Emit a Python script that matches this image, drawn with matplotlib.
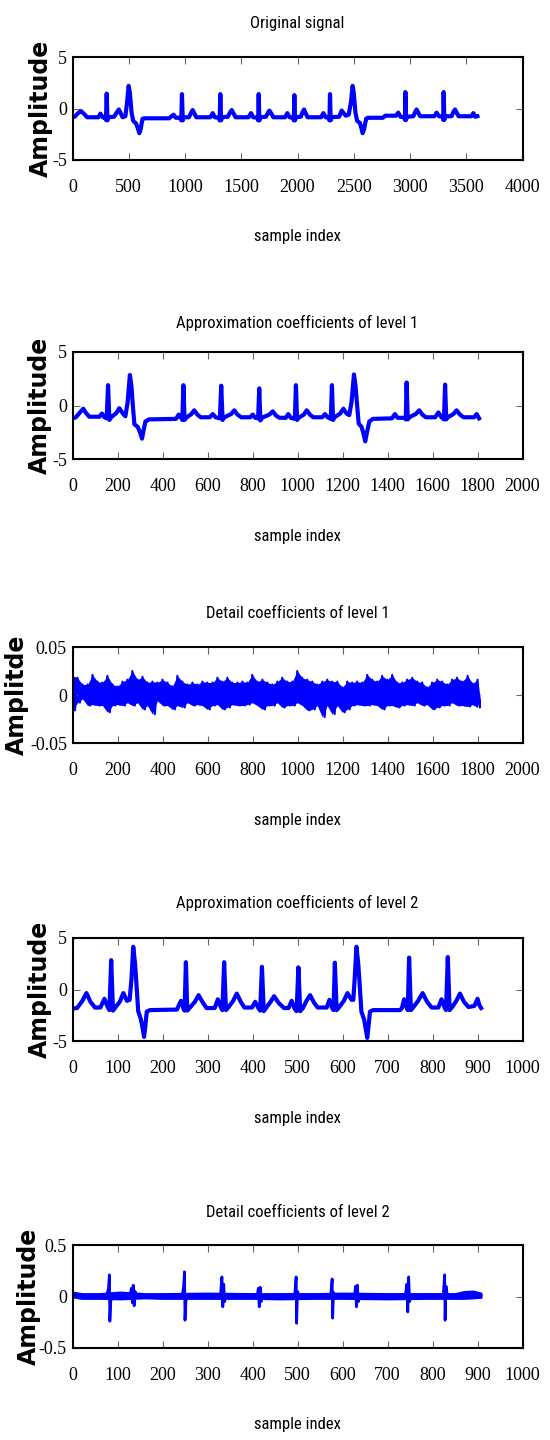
import numpy as np
import matplotlib
matplotlib.use("Agg")
import matplotlib.pyplot as plt
from matplotlib.ticker import FormatStrFormatter, MultipleLocator

plt.rcParams["font.family"] = ["Liberation Serif", "DejaVu Serif"]
plt.rcParams["axes.unicode_minus"] = False

NARROW = ["Liberation Sans Narrow", "Noto Sans Condensed", "Roboto Condensed",
          "Open Sans Condensed", "Liberation Sans", "DejaVu Sans"]
LABEL_FONT = ["DejaVu Sans"]
BLUE = "#0000ff"

# ---------------- original ECG signal (sample index, amplitude) ----------------
original_pts = [
    (0, -0.85), (20, -0.8), (45, -0.5), (75, -0.25), (105, -0.55), (130, -0.85),
    (230, -0.85), (248, -0.5), (268, -0.85), (292, -0.9), (297, -1.1), (304, 1.45),
    (311, -1.15), (318, -0.85), (370, -0.8), (395, -0.35), (412, -0.1), (428, -0.45),
    (445, -0.85), (470, -0.75), (485, 0.6), (499, 2.2), (510, 1.5), (525, -0.4),
    (540, -1.2), (565, -1.45), (580, -1.9), (594, -2.4), (606, -2.0), (622, -1.0),
    (640, -0.95), (860, -0.95), (880, -0.75), (900, -0.6), (918, -0.9), (962, -0.9),
    (967, -1.15), (973, 1.4), (980, -1.15), (988, -0.85), (1035, -0.85), (1055, -0.4),
    (1068, -0.15), (1082, -0.45), (1100, -0.85), (1225, -0.85), (1246, -0.45),
    (1265, -0.85), (1303, -0.9), (1308, -1.15), (1314, 1.4), (1321, -1.15),
    (1328, -0.85), (1380, -0.8), (1400, -0.4), (1415, -0.15), (1430, -0.45),
    (1450, -0.85), (1565, -0.85), (1587, -0.45), (1607, -0.85), (1645, -0.9),
    (1650, -1.15), (1655, 1.4), (1661, -1.15), (1668, -0.85), (1720, -0.8),
    (1738, -0.4), (1750, -0.2), (1765, -0.45), (1785, -0.85), (1890, -0.85),
    (1910, -0.45), (1930, -0.85), (1962, -0.9), (1967, -1.15), (1972, 1.3),
    (1978, -1.15), (1985, -0.85), (2030, -0.8), (2045, -0.35), (2058, -0.1),
    (2072, -0.45), (2090, -0.85), (2210, -0.85), (2230, -0.45), (2250, -0.85),
    (2280, -0.9), (2284, -1.15), (2289, 1.4), (2295, -1.15), (2302, -0.85),
    (2370, -0.8), (2393, -0.2), (2410, -0.45), (2430, -0.7), (2455, -0.6),
    (2475, 0.6), (2490, 2.2), (2500, 1.5), (2515, -0.4), (2530, -1.2), (2555, -1.4),
    (2568, -1.9), (2579, -2.4), (2592, -2.0), (2610, -1.0), (2625, -0.9),
    (2760, -0.9), (2780, -0.7), (2875, -0.7), (2896, -0.4), (2915, -0.8),
    (2952, -0.85), (2955, -1.1), (2959, 1.6), (2965, -1.1), (2972, -0.8),
    (3030, -0.75), (3045, -0.35), (3059, -0.1), (3073, -0.4), (3090, -0.75),
    (3215, -0.75), (3237, -0.4), (3257, -0.75), (3292, -0.8), (3295, -1.1),
    (3299, 1.6), (3305, -1.1), (3312, -0.75), (3370, -0.75), (3385, -0.35),
    (3400, -0.1), (3415, -0.4), (3432, -0.75), (3545, -0.75), (3563, -0.45),
    (3580, -0.8), (3599, -0.75),
]

# ---------------- approximation coefficients, level 1 ----------------
approx1_pts = [
    (0, -1.2), (15, -1.1), (35, -0.6), (48, -0.3), (60, -0.7), (75, -1.05),
    (120, -1.05), (131, -0.75), (142, -1.1), (152, -1.2), (158, 1.9), (164, -1.35),
    (172, -1.1), (195, -0.7), (208, -0.25), (222, -0.7), (235, -1.0), (245, 0.3),
    (255, 2.85), (262, 1.8), (268, 0.05), (275, -1.75), (290, -2.0), (300, -2.5),
    (309, -3.1), (316, -2.3), (324, -1.5), (340, -1.3), (460, -1.25), (472, -0.85),
    (484, -1.2), (488, -1.35), (493, 1.9), (498, -1.35), (505, -1.15), (528, -0.8),
    (541, -0.45), (555, -0.85), (570, -1.1), (610, -1.1), (623, -0.8), (636, -1.1),
    (655, -1.2), (661, 1.85), (667, -1.35), (675, -1.1), (705, -0.8), (719, -0.45),
    (733, -0.85), (750, -1.1), (790, -1.1), (801, -0.85), (812, -1.15), (825, -1.2),
    (830, 1.6), (835, -1.4), (842, -1.15), (875, -0.85), (890, -0.55), (905, -0.95),
    (920, -1.15), (948, -1.15), (959, -0.8), (970, -1.15), (988, -1.25), (993, 1.9),
    (998, -1.35), (1005, -1.15), (1028, -0.85), (1041, -0.45), (1055, -0.85),
    (1070, -1.1), (1110, -1.1), (1122, -0.8), (1134, -1.1), (1148, -1.25),
    (1153, 1.9), (1158, -1.35), (1165, -1.1), (1190, -0.75), (1204, -0.3),
    (1218, -0.75), (1230, -0.9), (1240, 0.3), (1251, 2.9), (1258, 1.8), (1265, 0.0),
    (1272, -1.7), (1285, -2.0), (1293, -2.6), (1301, -3.35), (1309, -2.5),
    (1319, -1.5), (1335, -1.25), (1420, -1.2), (1433, -0.8), (1445, -1.15),
    (1478, -1.15), (1481, -1.3), (1485, 2.15), (1490, -1.3), (1497, -1.1),
    (1525, -0.8), (1541, -0.45), (1555, -0.85), (1570, -1.1), (1612, -1.1),
    (1626, -0.65), (1640, -1.1), (1651, -1.3), (1656, 1.95), (1661, -1.3),
    (1668, -1.1), (1693, -0.8), (1707, -0.45), (1722, -0.85), (1738, -1.1),
    (1785, -1.1), (1796, -0.8), (1807, -1.2),
]

# ---------------- detail coefficients, level 1 (upper / lower envelope) ----------------
detail1_x = [round(22.2 * k) for k in range(79)] + [1756, 1778, 1800, 1808]
detail1_top = [
    0.020, 0.018, 0.011, 0.011, 0.021, 0.014, 0.013, 0.020, 0.011, 0.009,
    0.014, 0.016, 0.025, 0.016, 0.019, 0.013, 0.014, 0.013, 0.016, 0.013,
    0.009, 0.020, 0.014, 0.011, 0.013, 0.011, 0.014, 0.013, 0.013, 0.018,
    0.014, 0.018, 0.013, 0.013, 0.014, 0.013, 0.021, 0.014, 0.016, 0.013,
    0.011, 0.014, 0.018, 0.014, 0.014, 0.025, 0.018, 0.016, 0.014, 0.011,
    0.014, 0.016, 0.014, 0.014, 0.008, 0.014, 0.013, 0.014, 0.013, 0.021,
    0.016, 0.014, 0.020, 0.016, 0.021, 0.013, 0.013, 0.016, 0.018, 0.014,
    0.013, 0.008, 0.013, 0.016, 0.014, 0.011, 0.016, 0.018, 0.014,
    0.020, 0.012, 0.016, 0.000,
]
detail1_bot = [
    -0.016, -0.008, -0.004, -0.011, -0.010, -0.011, -0.011, -0.018, -0.011, -0.010,
    -0.011, -0.008, -0.011, -0.008, -0.015, -0.011, -0.020, -0.006, -0.011, -0.011,
    -0.015, -0.011, -0.013, -0.008, -0.011, -0.010, -0.011, -0.015, -0.011, -0.010,
    -0.015, -0.013, -0.010, -0.011, -0.011, -0.010, -0.008, -0.011, -0.015, -0.011,
    -0.011, -0.008, -0.013, -0.011, -0.011, -0.008, -0.011, -0.016, -0.015, -0.011,
    -0.023, -0.011, -0.020, -0.011, -0.018, -0.015, -0.011, -0.010, -0.011, -0.011,
    -0.010, -0.011, -0.015, -0.011, -0.011, -0.013, -0.011, -0.010, -0.011, -0.008,
    -0.011, -0.010, -0.015, -0.013, -0.011, -0.011, -0.008, -0.011, -0.011,
    -0.012, -0.010, -0.013, -0.004,
]

# ---------------- approximation coefficients, level 2 ----------------
approx2_pts = [
    (0, -1.85), (10, -1.8), (22, -1.1), (31, -0.35), (40, -1.2), (50, -1.75),
    (62, -1.75), (71, -0.9), (78, -1.7), (82, -2.0), (86, 2.85), (90, -2.05),
    (95, -1.75), (105, -1.2), (113, -0.35), (121, -1.1), (127, -1.0), (131, 1.0),
    (135, 4.15), (139, 2.5), (142, 0.6), (146, -2.1), (152, -2.9), (156, -3.8),
    (159, -4.6), (162, -3.5), (165, -2.15), (172, -2.0), (232, -1.95), (241, -1.1),
    (247, -1.9), (249, -2.05), (252, 2.65), (255, -2.05), (260, -1.8), (272, -1.2),
    (280, -0.55), (290, -1.3), (298, -1.8), (316, -1.8), (323, -0.95), (330, -1.75),
    (333, -2.0), (337, 2.65), (341, -2.0), (346, -1.75), (357, -1.1), (365, -0.4),
    (374, -1.2), (382, -1.75), (399, -1.75), (406, -1.2), (413, -1.8), (417, -2.05),
    (421, 2.2), (425, -2.1), (430, -1.8), (440, -1.2), (448, -0.65), (458, -1.3),
    (470, -1.8), (480, -1.8), (487, -1.1), (494, -1.9), (498, -2.1), (502, 2.15),
    (506, -2.1), (512, -1.8), (520, -1.1), (528, -0.55), (537, -1.3), (545, -1.75),
    (565, -1.75), (571, -1.0), (577, -1.8), (580, -2.0), (583, 2.6), (587, -2.0),
    (592, -1.75), (603, -1.1), (611, -0.35), (620, -1.0), (624, -1.0), (627, 1.0),
    (631, 4.15), (635, 2.5), (638, 0.6), (642, -2.15), (648, -2.9), (652, -3.9),
    (655, -4.7), (658, -3.5), (661, -2.15), (668, -2.0), (728, -2.0), (732, -1.8),
    (737, -0.95), (742, -1.7), (745, -2.0), (748, 3.1), (752, -2.0), (757, -1.75),
    (768, -1.1), (778, -0.35), (788, -1.2), (798, -1.75), (813, -1.75), (820, -0.95),
    (827, -1.75), (830, -2.0), (834, 3.15), (838, -2.0), (843, -1.75), (853, -1.1),
    (861, -0.4), (870, -1.2), (880, -1.7), (893, -1.6), (900, -0.9), (904, -1.5),
    (908, -1.8),
]

# ---------------- detail coefficients, level 2 ----------------
detail2_pts = [
    (0, 0.03), (5, 0.0), (76, 0.01), (80, 0.08), (82, 0.21), (83, -0.24), (85, -0.05),
    (88, 0.01), (128, 0.02), (131, 0.08), (133, -0.06), (135, 0.11), (137, -0.09),
    (139, 0.05), (142, 0.0), (244, 0.01), (247, 0.1), (249, 0.24), (250, -0.23),
    (252, -0.05), (255, 0.01), (329, 0.02), (332, 0.19), (334, -0.1), (336, 0.12),
    (338, -0.05), (341, 0.01), (411, 0.02), (413, 0.08), (415, -0.1), (417, 0.09),
    (419, -0.05), (422, 0.01), (494, 0.02), (497, 0.19), (498, -0.26), (500, 0.05),
    (503, 0.01), (574, 0.02), (577, 0.17), (578, -0.21), (580, 0.04), (583, 0.01),
    (627, 0.02), (629, 0.1), (631, -0.1), (633, 0.11), (635, -0.05), (638, 0.01),
    (740, 0.02), (743, 0.12), (745, -0.15), (747, 0.19), (749, -0.05), (752, 0.01),
    (824, 0.02), (827, 0.21), (828, -0.23), (830, 0.1), (833, 0.01), (908, 0.01),
]
detail2_band_x = [0, 20, 60, 105, 160, 200, 300, 400, 460, 540, 600, 700, 790, 850, 870, 890, 908]
detail2_band_top = [0.045, 0.03, 0.03, 0.045, 0.03, 0.03, 0.035, 0.03, 0.03, 0.03,
                    0.035, 0.03, 0.03, 0.03, 0.05, 0.055, 0.035]
detail2_band_bot = [-0.005, -0.02, -0.02, -0.025, -0.015, -0.02, -0.02, -0.02, -0.025,
                    -0.02, -0.02, -0.025, -0.02, -0.02, -0.02, -0.015, -0.01]

titles = ["Original signal", "Approximation coefficients of level 1",
          "Detail coefficients of level 1", "Approximation coefficients of level 2",
          "Detail coefficients of level 2"]
ylabels = ["Amplitude", "Amplitude", "Amplitde", "Amplitude", "Amplitude"]
xlims = [(0, 4000), (0, 2000), (0, 2000), (0, 1000), (0, 1000)]
xsteps = [500, 200, 200, 100, 100]
ylims = [(-5, 5), (-5, 5), (-0.05, 0.05), (-5, 5), (-0.5, 0.5)]

# ---------------- layout (pixels on a 550 x 1440 canvas) ----------------
W, H = 550, 1440
ax_left, ax_width = 72.5, 450
ax_tops = [57, 352, 647, 938, 1245]
ax_bottoms = [160, 459, 743, 1041, 1348]
title_pads_px = [29, 24, 29, 30, 28]
ylabel_x_px = [41, 40, 16.5, 40, 29]

fig = plt.figure(figsize=(W / 100, H / 100), dpi=100)
axes = []
for i in range(5):
    top, bot = ax_tops[i], ax_bottoms[i]
    ax = fig.add_axes([ax_left / W, 1 - bot / H, ax_width / W, (bot - top) / H])
    axes.append(ax)
    ax.set_xlim(*xlims[i])
    ax.set_ylim(*ylims[i])
    ax.xaxis.set_major_locator(MultipleLocator(xsteps[i]))
    ax.yaxis.set_major_locator(MultipleLocator(ylims[i][1]))
    ax.yaxis.set_major_formatter(FormatStrFormatter("%g"))
    ax.tick_params(direction="in", top=True, right=True, length=5, width=0.8,
                   color="0.4", labelsize=13)
    ax.tick_params(axis="x", pad=14)
    ax.tick_params(axis="y", pad=4)
    for sp in ax.spines.values():
        sp.set_linewidth(1.5)
    ax.set_title(titles[i], fontsize=12, family=NARROW, fontstretch="condensed",
                 pad=title_pads_px[i] * 0.72)
    ax.set_xlabel("sample index", fontsize=12, family=NARROW, fontstretch="condensed")
    ax.xaxis.label.set_va("center")
    ax.xaxis.set_label_coords(0.5, -77 / (bot - top))
    ax.set_ylabel(ylabels[i], fontsize=17, family=LABEL_FONT, fontweight="bold")
    ax.yaxis.label.set_va("center")
    ax.yaxis.label.set_ha("center")
    ax.yaxis.set_label_coords((ylabel_x_px[i] - ax_left) / ax_width, 0.5)

# signals
for ax, pts in zip([axes[0], axes[1], axes[3]], [original_pts, approx1_pts, approx2_pts]):
    xs, ys = np.array(pts).T
    ax.plot(xs, ys, color=BLUE, lw=3.0, solid_joinstyle="round")

# detail level 1: dense noise band drawn from its read envelope
dx = np.array(detail1_x, dtype=float)
dt = np.array(detail1_top)
db = np.array(detail1_bot)
axes[2].fill_between(dx, db, dt, color=BLUE, lw=0)
zig_x = np.empty(2 * len(dx))
zig_y = np.empty(2 * len(dx))
zig_x[0::2], zig_x[1::2] = dx, dx + 11
zig_y[0::2], zig_y[1::2] = dt, db
axes[2].plot(zig_x[:-1], zig_y[:-1], color=BLUE, lw=1.5)

# detail level 2: noise band plus the bursts at each beat
axes[4].fill_between(detail2_band_x, detail2_band_bot, detail2_band_top, color=BLUE, lw=1.2,
                     edgecolor=BLUE)
xs, ys = np.array(detail2_pts).T
axes[4].plot(xs, ys, color=BLUE, lw=2.0)

fig.savefig("out.png", dpi=100)
